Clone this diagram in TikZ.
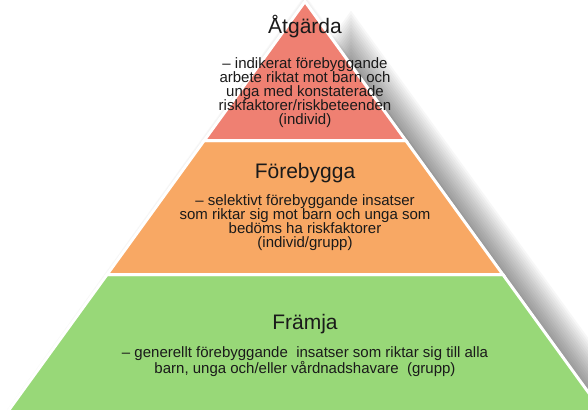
\documentclass[tikz,border=0pt]{standalone}
\usepackage{fontspec}
\setmainfont{Liberation Sans}
\usetikzlibrary{calc}
\definecolor{redband}{HTML}{EF8072}
\definecolor{orangeband}{HTML}{F8A864}
\definecolor{greenband}{HTML}{98D878}
\definecolor{ink}{HTML}{1A1A1A}
\tikzset{
  band/.style={draw=white, line width=3pt, line join=miter},
  shadowlayer/.style={fill=black, opacity=0.03},
  halolayer/.style={fill=black, opacity=0.025},
  tier title/.style={font=\fontsize{21}{24}\selectfont, text=ink, inner sep=0pt, anchor=base},
  tier body/.style={font=\fontsize{15}{14}\selectfont, text=ink, align=center, inner sep=0pt},
}
\begin{document}
\begin{tikzpicture}[x=1pt,y=-1pt]
\useasboundingbox (0,0) rectangle (588,409);
\clip (0,0) rectangle (588,409);
% soft outer shadow to the lower right
\foreach \k in {-24,-22,...,24}{
  \pgfmathsetmacro{\ay}{1.5+50-1.7*\k}
  \pgfmathsetmacro{\by}{420+50+\k}
  \pgfmathsetmacro{\hw}{0.725*(\by-\ay)}
  \fill[shadowlayer] (351,\ay) -- ({351-\hw},\by) -- ({351+\hw},\by) -- cycle;
}
% faint halo round the whole pyramid
\foreach \k in {1,2,3,4}{
  \fill[halolayer] (305,{1.5-1.7*\k}) -- ({1.6-1.23*\k},{420+\k}) -- ({608.4+1.23*\k},{420+\k}) -- cycle;
}
% pyramid geometry
\coordinate (apex) at (305,1.5);
\coordinate (l1) at (204.2,140.5);
\coordinate (r1) at (405.8,140.5);
\coordinate (l2) at (107.1,274.5);
\coordinate (r2) at (502.9,274.5);
\coordinate (l3) at (1.6,420);
\coordinate (r3) at (608.4,420);
\fill[greenband] (l2) -- (r2) -- (r3) -- (l3) -- cycle;
\fill[orangeband] (l1) -- (r1) -- (r2) -- (l2) -- cycle;
\fill[redband] (apex) -- (r1) -- (l1) -- cycle;
\draw[band] (l2) -- (r2) -- (r3) -- (l3) -- cycle;
\draw[band] (l1) -- (r1) -- (r2) -- (l2) -- cycle;
\draw[band] (apex) -- (r1) -- (l1) -- cycle;
% texts
\node[tier title] (t1) at (305,34) {Åtgärda};
\node[tier body] (b1) at (305,92.5) {– indikerat förebyggande\\arbete riktat mot barn och\\unga med konstaterade\\riskfaktorer/riskbeteenden\\(individ)};
\node[tier title] (t2) at (305,178) {Förebygga};
\node[tier body] (b2) at (305,223) {– selektivt förebyggande insatser\\som riktar sig mot barn och unga som\\bedöms ha riskfaktorer\\(individ/grupp)};
\node[tier title] (t3) at (305,329) {Främja};
\node[tier body] (b3) at (305,361.5) {– generellt förebyggande\ \ insatser som riktar sig till alla\\barn, unga och/eller vårdnadshavare\ \ (grupp)};
\end{tikzpicture}
\end{document}
